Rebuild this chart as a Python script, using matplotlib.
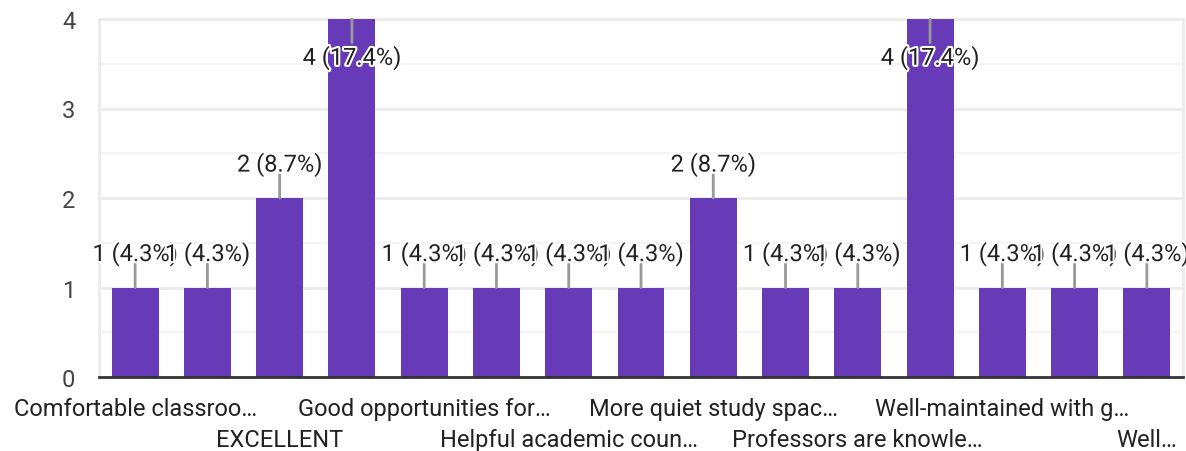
import matplotlib
matplotlib.use("Agg")
import matplotlib.pyplot as plt
import matplotlib.patheffects as pe
from matplotlib.transforms import blended_transform_factory

# responses per option (labels as shown, hidden ones left blank)
labels = ["Comfortable classroo…", "", "EXCELLENT", "", "Good opportunities for…", "",
          "Helpful academic coun…", "", "More quiet study spac…", "", "Professors are knowle…",
          "", "Well-maintained with g…", "", "Well…"]
counts = [1, 1, 2, 4, 1, 1, 1, 1, 2, 1, 1, 4, 1, 1, 1]
total = 23
yticks = [0, 1, 2, 3, 4]

BAR = "#673ab7"
TXT = "#222222"
FS = 17

plt.rcParams["font.family"] = ["Roboto", "DejaVu Sans"]

fig = plt.figure(figsize=(11.86, 4.52), dpi=100)
ax = fig.add_axes([99 / 1186, 74 / 452, 1084 / 1186, 358 / 452])

x = list(range(len(counts)))
ax.bar(x, counts, width=0.65, color=BAR, zorder=3)
ax.set_xlim(-0.5, len(counts) - 0.5)
ax.set_ylim(0, 4)

# grid: major at integers, minor halves
for v in [0.5, 1.5, 2.5, 3.5]:
    ax.axhline(v, color="#f4f4f4", lw=1.5, zorder=1)
for v in yticks[1:]:
    ax.axhline(v, color="#ebebeb", lw=2, zorder=1, clip_on=False)

ax.set_yticks(yticks)
ax.set_yticklabels([str(t) for t in yticks], fontsize=FS, color="#444444")
ax.tick_params(axis="y", length=0, pad=17)
ax.set_xticks([])

for s in ["left", "right"]:
    ax.spines[s].set_color("#ebebeb")
    ax.spines[s].set_linewidth(2)
ax.spines["top"].set_visible(False)
ax.spines["bottom"].set_color("#333333")
ax.spines["bottom"].set_linewidth(2)
ax.spines["bottom"].set_zorder(4)

halo = [pe.withStroke(linewidth=3, foreground="white")]
for i, c in enumerate(counts):
    txt = f"{c} ({100 * c / total:.1f}%)"
    sign = -1 if c >= 4 else 1
    ax.annotate("", xy=(i, c), xytext=(0, sign * 17), textcoords="offset points",
                arrowprops=dict(arrowstyle="-", color="#999999", lw=2,
                                shrinkA=0, shrinkB=0), zorder=5, annotation_clip=False)
    ax.annotate(txt, xy=(i, c), xytext=(0, 24 if sign > 0 else -28),
                textcoords="offset points",
                ha="center", va="center", fontsize=FS, color=TXT,
                path_effects=halo, zorder=6, annotation_clip=False)

trans = blended_transform_factory(ax.transData, ax.transAxes)
row = 0
for i, lab in enumerate(labels):
    if not lab:
        continue
    off = -23 if row % 2 == 0 else -45
    ax.annotate(lab, xy=(i, 0), xycoords=trans, xytext=(0, off), textcoords="offset points",
                ha="center", va="center", fontsize=FS, color=TXT, annotation_clip=False)
    row += 1

fig.savefig("out.png", dpi=100)
